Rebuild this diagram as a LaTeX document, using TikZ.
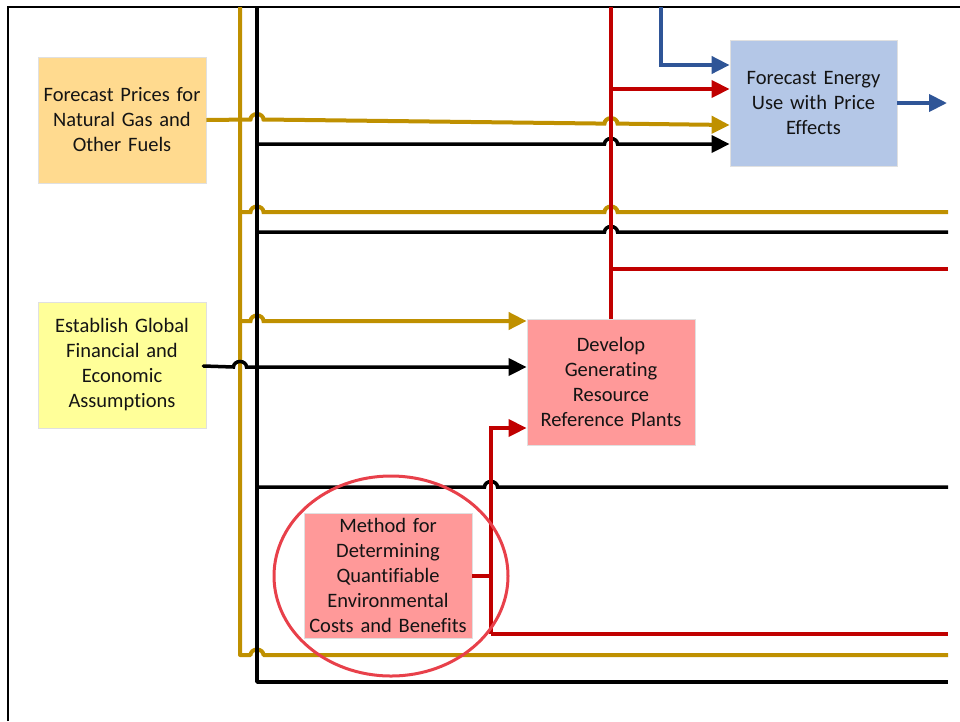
\documentclass[tikz,border=0pt]{standalone}
\usepackage{fontspec}
\setmainfont{Carlito}[Ligatures={NoCommon,NoRare}]
\usetikzlibrary{arrows.meta,calc}
\definecolor{goldc}{HTML}{BF9000}
\definecolor{redc}{HTML}{C00000}
\definecolor{bluec}{HTML}{2F5597}
\definecolor{orangebox}{HTML}{FFDA8F}
\definecolor{yellowbox}{HTML}{FFFF99}
\definecolor{bluebox}{HTML}{B4C7E7}
\definecolor{pinkbox}{HTML}{FF9999}
\definecolor{ringc}{HTML}{E8404A}
\begin{document}
\begin{tikzpicture}[x=1pt,y=-1pt,
  box/.style={draw=black!12, line width=0.8pt, minimum width=168pt,
    minimum height=126pt, text width=164pt, align=center, inner sep=0pt,
    font=\fontsize{20.5}{25}\selectfont, text=black!92},
  goldln/.style={draw=goldc, line width=4pt},
  blkln/.style={draw=black, line width=3.5pt},
  redln/.style={draw=redc, line width=3.5pt},
  blueln/.style={draw=bluec, line width=4pt},
  tip/.style={-{Triangle[length=18pt,width=17pt]}},
  hop/.style={start angle=180, end angle=0, x radius=6.5pt, y radius=5.5pt}]
\useasboundingbox (0,0) rectangle (960,721);

% frame
\draw[line width=2pt] (8,721) -- (8,7) -- (960,7);

% process boxes
\node[box, fill=orangebox] (fp) at (122,120) {Forecast Prices for\\Natural Gas and\\Other Fuels};
\node[box, fill=yellowbox] (eg) at (122,365) {Establish Global\\Financial and\\Economic\\Assumptions};
\node[box, fill=bluebox, minimum width=167pt] (fe) at (813.5,103) {Forecast Energy\\Use with Price\\Effects};
\node[box, fill=pinkbox] (dv) at (611,382) {Develop\\Generating\\Resource\\Reference Plants};
\node[box, fill=pinkbox, minimum height=125pt] (md) at (388,575.5) {Method for\\Determining\\Quantifiable\\Environmental\\Costs and Benefits};

% bus coordinates
\coordinate (gtop) at (240,7);
\coordinate (gbot) at (240,655);
\coordinate (ktop) at (257,7);
\coordinate (kbot) at (257,682);
\coordinate (rtop) at (611,7);
\coordinate (r1) at (611,89);
\coordinate (r2) at (611,269);
\coordinate (b0) at (661,7);
\coordinate (b1) at (661,65);
\coordinate (bout) at (947,103);
\coordinate (mj) at (491,576);
\coordinate (mt) at (491,428);
\coordinate (mb) at (491,634);

% gold bus
\draw[goldln, line join=round] (gtop) -- (gbot) -- (250.5,655) arc[hop] -- (948,655);
\draw[goldln, tip] (fp.east) -- (250.5,119.5) arc[hop] -- (604.5,123.6) arc[hop] -- (fe.west |- 0,125);
\draw[goldln] (240,212) -- (250.5,212) arc[hop] -- (604.5,212) arc[hop] -- (948,212);
\draw[goldln, tip] (240,321) -- (250.5,321) arc[hop] -- (dv.west |- 0,321);

% black bus
\draw[blkln, line join=round] (ktop) -- (kbot) -- (948,682);
\draw[blkln, tip] (257,144) -- (604.5,144) arc[hop] -- (fe.west |- 0,144);
\draw[blkln] (257,232) -- (604.5,232) arc[hop] -- (948,232);
\draw[blkln, tip, line cap=round] (eg.east) ++(-3,1) -- (233.5,367) arc[hop] -- (dv.west |- 0,367);
\draw[blkln] (257,487) -- (484.5,487) arc[hop] -- (948,487);

% red links
\draw[redln] (dv.north) -- (rtop);
\draw[redln, tip] (r1) -- (r1 -| fe.west);
\draw[redln] (r2) -- (948,269);
\draw[redln] (md.east |- mj) -- (mj);
\draw[redln, tip] (mb) -- (mt) -- (mt -| dv.west);
\draw[redln] (mb) -- (948,634);

% blue links
\draw[blueln, tip] (b0) -- (b1) -- (b1 -| fe.west);
\draw[blueln, tip] (fe.east) -- (bout);

% highlight ring
\draw[ringc, line width=3pt] (391,576) ellipse[x radius=117pt, y radius=100pt];
\end{tikzpicture}
\end{document}
